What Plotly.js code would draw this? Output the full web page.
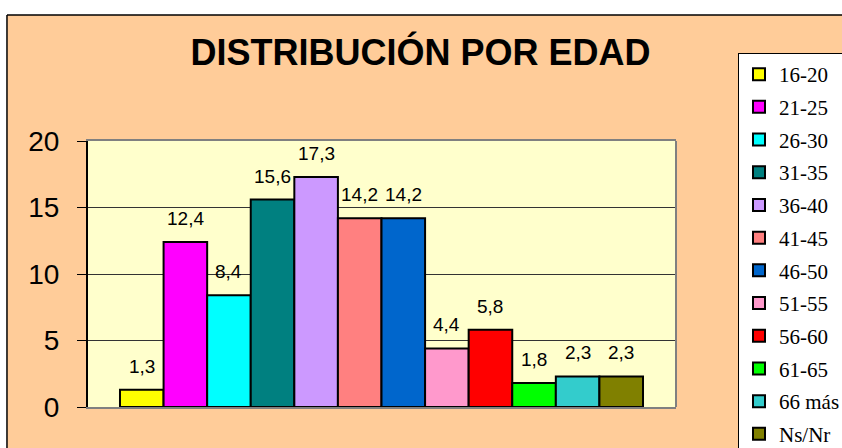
<!DOCTYPE html>
<html>
<head>
<meta charset="utf-8">
<script src="https://cdn.plot.ly/plotly-3.0.1.min.js"></script>
<style>html,body{margin:0;padding:0;background:#fff;}#chart{width:842px;height:448px;}</style>
</head>
<body>
<div id="chart"></div>
<script>
const categories = ['16-20','21-25','26-30','31-35','36-40','41-45','46-50','51-55','56-60','61-65','66 más','Ns/Nr'];
const values = [1.3, 12.4, 8.4, 15.6, 17.3, 14.2, 14.2, 4.4, 5.8, 1.8, 2.3, 2.3];
const colors = ['#FFFF00','#FF00FF','#00FFFF','#008080','#CC99FF','#FF8080','#0066CC','#FF99CC','#FF0000','#00FF00','#33CCCC','#808000'];
const yTicks = [0, 5, 10, 15, 20];

const SANS = '"Liberation Sans", Arial, sans-serif';
const SERIF = '"Liberation Serif", "Times New Roman", serif';
const fmt = v => v.toFixed(1).replace('.', ',');

const traces = categories.map((c, i) => ({
  type: 'bar',
  x: [c],
  y: [values[i]],
  name: c,
  legendgroup: c,
  marker: { color: colors[i], line: { color: '#000', width: 2 } },
  hoverinfo: 'skip'
}));

const annotations = categories.map((c, i) => ({
  x: c, y: values[i], xref: 'x', yref: 'y',
  text: fmt(values[i]),
  showarrow: false, yanchor: 'bottom', yshift: 11,
  font: { family: SANS, size: 19, color: '#000' }
}));

const layout = {
  width: 842, height: 448,
  margin: { l: 88, r: 166, t: 141, b: 41, pad: 0 },
  paper_bgcolor: '#FFCC99',
  plot_bgcolor: '#FFFFCC',
  barmode: 'overlay',
  bargap: 0,
  showlegend: true,
  title: {
    text: 'DISTRIBUCIÓN POR EDAD',
    xref: 'container', yref: 'container',
    x: 0.4994, xanchor: 'center', y: 0.8828, yanchor: 'middle',
    font: { family: SANS, size: 36, color: '#000', weight: 'bold' }
  },
  xaxis: {
    type: 'category',
    range: [-1.234, 12.257],
    showticklabels: false, ticks: '',
    showgrid: false, zeroline: false,
    showline: true, linecolor: '#808080', linewidth: 2, mirror: true,
    fixedrange: true
  },
  yaxis: {
    range: [0, 20],
    tickvals: yTicks,
    ticktext: yTicks.map(String),
    ticks: 'outside', ticklen: 9, tickcolor: '#000', tickwidth: 1,
    showline: true, linecolor: '#000', linewidth: 2,
    showgrid: true, gridcolor: '#333', gridwidth: 1,
    zeroline: false,
    tickfont: { family: SANS, size: 28, color: '#000' },
    ticklabelstandoff: 12,
    fixedrange: true
  },
  legend: {
    xref: 'container', yref: 'container',
    x: 738/842, xanchor: 'left', y: 1 - 53/448, yanchor: 'top',
    bgcolor: '#FFFFFF', bordercolor: '#000', borderwidth: 1,
    font: { family: SERIF, size: 21, color: '#000' },
    tracegroupgap: 2.4,
    traceorder: 'grouped',
    maxheight: 1000
  },
  annotations: annotations,
  shapes: [
    { type: 'rect', xref: 'paper', yref: 'paper', x0: -1, x1: 2, y0: 1.4737, y1: 3, fillcolor: '#FFFFFF', line: { width: 0 }, layer: 'below' },
    { type: 'rect', xref: 'paper', yref: 'paper', x0: -1, x1: -0.1378, y0: -1, y1: 3, fillcolor: '#FFFFFF', line: { width: 0 }, layer: 'below' },
    { type: 'line', xref: 'paper', yref: 'paper', x0: -0.1378, x1: -0.1378, y0: -1, y1: 1.4737, line: { color: '#000', width: 1.5 } },
    { type: 'line', xref: 'paper', yref: 'paper', x0: -0.1378, x1: 2, y0: 1.4737, y1: 1.4737, line: { color: '#000', width: 1.5 } },
    { type: 'line', xref: 'paper', yref: 'paper', x0: 1, x1: 1, y0: 0, y1: 1, line: { color: '#808080', width: 2 } }
  ]
};

Plotly.newPlot('chart', traces, layout, { displayModeBar: false, staticPlot: true });
</script>
</body>
</html>
